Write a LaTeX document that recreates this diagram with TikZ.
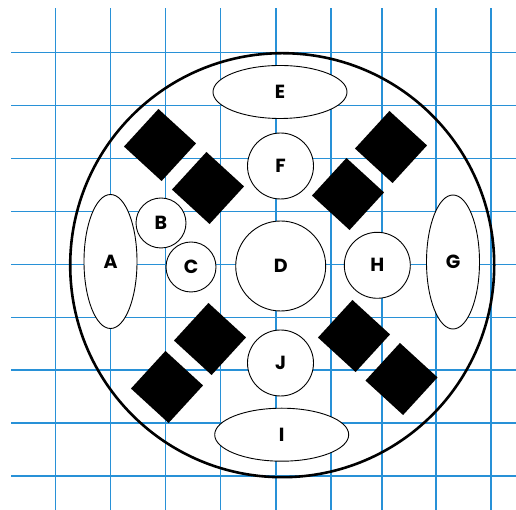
\documentclass[tikz,border=0pt]{standalone}
\usepackage{fontspec}
\setsansfont{Poppins}
\usepackage{tikz}
\usetikzlibrary{shapes.geometric}
\definecolor{gridblue}{RGB}{40,145,215}

\begin{document}
\begin{tikzpicture}[
  x=1pt,y=1pt,
  font=\sffamily\bfseries\fontsize{19}{19}\selectfont,
  gridline/.style={draw=gridblue,line width=1.3pt},
  part/.style={draw,fill=white,line width=0.9pt,inner sep=0pt},
  tall/.style={part,ellipse,minimum width=53pt,minimum height=134pt},
  flat/.style={part,ellipse,minimum width=134pt,minimum height=53pt},
  disc/.style={part,circle},
  block/.style={fill=black,minimum size=51pt,inner sep=0pt,rotate=47.5},
]
  \useasboundingbox (0,0) rectangle (516,510);

  \foreach \x in {55.7,110.3,165.3,220.3,276,331,382,436,491}
    { \draw[gridline] (\x,0) -- (\x,502); }
  \foreach \y in {34,87,140,192.7,245.8,298.7,351.7,404.3,457.3}
    { \draw[gridline] (11,\y) -- (516,\y); }

  \node[draw,circle,line width=2.6pt,minimum size=424pt,inner sep=0pt] (plate) at (282.2,244.8) {};

  \node[tall] (A) at (110.5,248.5) {A};
  \node[tall] (G) at (453,248) {G};
  \node[flat] (E) at (280,418) {E};
  \node[flat] (I) at (281.7,75.3) {I};

  \node[disc,minimum size=50pt] (B) at (161,287) {B};
  \node[disc,minimum size=50pt] (C) at (191,243) {C};
  \node[disc,minimum size=90pt] (D) at (280.7,244) {D};
  \node[disc,minimum size=66pt] (F) at (280.5,344) {F};
  \node[disc,minimum size=66pt] (H) at (377.3,244.7) {H};
  \node[disc,minimum size=66pt] (J) at (280.5,147) {J};

  \foreach \p/\q [count=\i] in {160/365,208/322,391/363,348/316,210/171,167/123,354/174,401.5/131}
    { \node[block] (blk\i) at (\p,\q) {}; }
\end{tikzpicture}
\end{document}
